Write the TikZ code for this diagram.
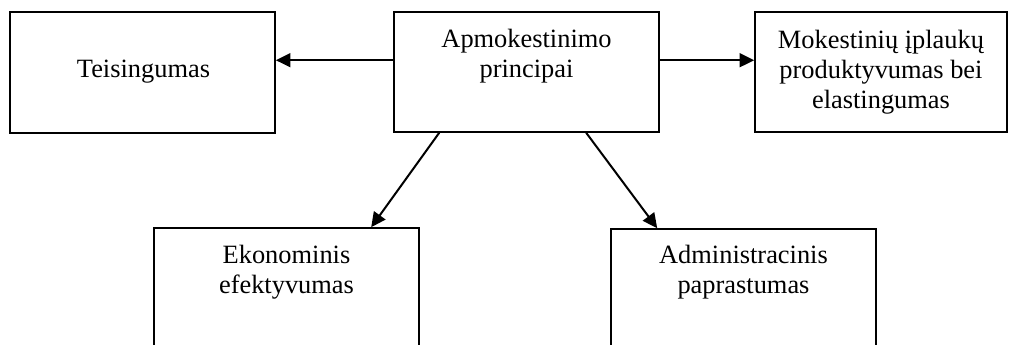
\documentclass[tikz,border=0pt]{standalone}
\usepackage{fontspec}
\setmainfont{Liberation Serif}
\usetikzlibrary{arrows.meta,calc,fit}
\begin{document}
\begin{tikzpicture}[x=0.75pt,y=-0.75pt,
  box/.style={draw,line width=1.2pt,rectangle,inner sep=0pt},
  lbl/.style={anchor=north,font=\fontsize{19.8pt}{22.5pt}\selectfont,align=center,inner sep=0pt},
  arr/.style={line width=1.5pt,-{Triangle[length=11pt,width=10.5pt]}}]
\useasboundingbox (0,0) rectangle (1009,345);
\clip (0,0) rectangle (1009,345);
% boxes
\node[box,fit={(10,12) (275,133)}] (t) {};
\node[box,fit={(394,12) (659,132)}] (c) {};
\node[box,fit={(755,12) (1007,132)}] (r) {};
\node[box,fit={(154,228) (419,380)}] (e) {};
\node[box,fit={(611,229) (876,380)}] (a) {};
% labels
\node[lbl] (tl) at (143.5,60.2) {Teisingumas};
\node[lbl] (cl) at (526.5,29.2) {Apmokestinimo\\principai};
\node[lbl] (rl) at (881,30.0) {Mokestinių įplaukų\\produktyvumas bei\\elastingumas};
\node[lbl] (el) at (286.5,245.0) {Ekonominis\\efektyvumas};
\node[lbl] (al) at (743.5,245.0) {Administracinis\\paprastumas};
% connectors
\draw[arr] ($(c.north west)+(0,49)$) -- ($(t.north east)+(0,49)$);
\draw[arr] ($(c.north east)+(0,49)$) -- ($(r.north west)+(0,49)$);
\draw[arr] ($(c.south west)+(46,0)$) -- ($(e.north west)+(218,0)$);
\draw[arr] ($(c.south west)+(193,0)$) -- ($(a.north west)+(47,0)$);
\end{tikzpicture}
\end{document}
